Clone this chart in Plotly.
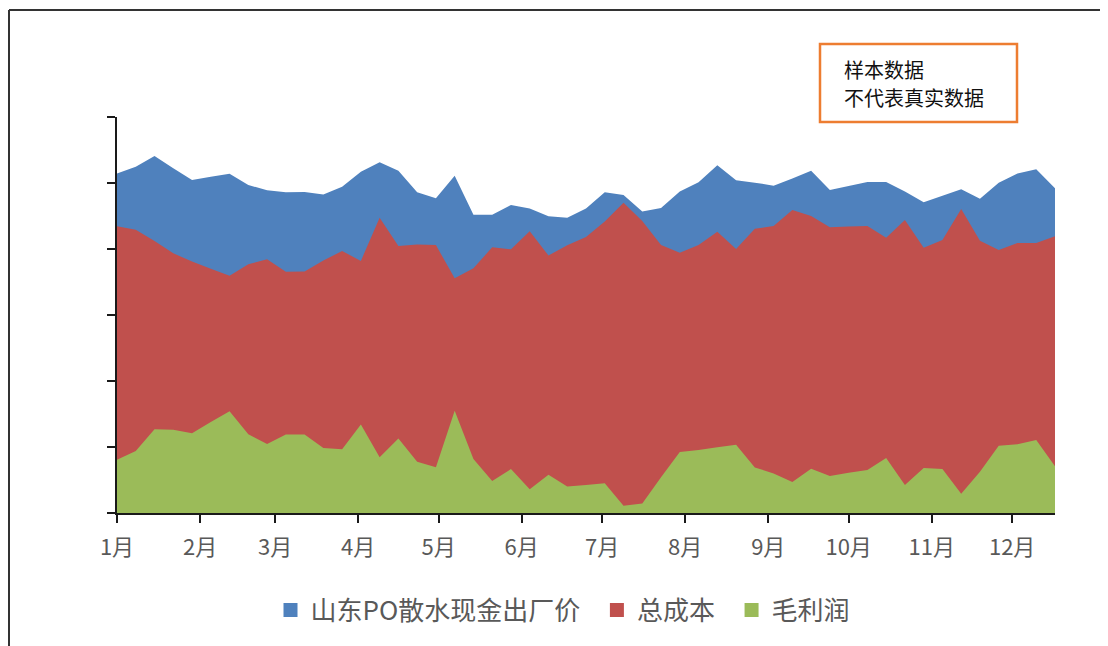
import pandas as pd
import plotly.graph_objects as go

# ---- data ----
dates = pd.date_range("2023-01-01", periods=51, freq="7D")

price = [10290, 10490, 10820, 10450, 10090, 10190, 10280, 9940, 9780, 9720,
         9730, 9650, 9890, 10340, 10630, 10370, 9720, 9540, 10220, 9040,
         9040, 9330, 9230, 8990, 8950, 9230, 9720, 9640, 9140, 9240,
         9740, 10020, 10540, 10080, 10010, 9920, 10140, 10370, 9790, 9910,
         10030, 10030, 9740, 9420, 9610, 9810, 9520, 10010, 10290, 10420,
         9840]

cost = [8690, 8580, 8240, 7870, 7620, 7400, 7190, 7540, 7690, 7310,
        7320, 7650, 7940, 7640, 8950, 8090, 8140, 8120, 7110, 7420,
        8050, 7990, 8540, 7800, 8110, 8360, 8830, 9400, 8850, 8120,
        7890, 8120, 8520, 8000, 8610, 8700, 9180, 9000, 8660, 8680,
        8700, 8340, 8880, 8040, 8270, 9210, 8250, 7970, 8180, 8180,
        8390]

profit = [1610, 1880, 2540, 2520, 2420, 2760, 3080, 2390, 2090, 2380,
          2380, 1970, 1930, 2680, 1690, 2260, 1550, 1390, 3100, 1640,
          970, 1330, 720, 1160, 800, 850, 900, 220, 290, 1080,
          1850, 1910, 1990, 2070, 1380, 1200, 940, 1340, 1120, 1220,
          1300, 1670, 850, 1360, 1330, 580, 1250, 2040, 2080, 2210,
          1420]

month_ticks = pd.date_range("2023-01-01", periods=12, freq="MS")
month_labels = ["1月", "2月", "3月", "4月", "5月", "6月",
                "7月", "8月", "9月", "10月", "11月", "12月"]
y_ticks = [0, 2000, 4000, 6000, 8000, 10000, 12000]

names = ["山东PO散水现金出厂价", "总成本", "毛利润"]
legend_names = ["山东PO散水现金出厂价\u00a0\u00a0", "总成本\u00a0\u00a0", "毛利润"]
colors = ["#4F81BD", "#C0504D", "#9BBB59"]
note_lines = ["样本数据", "不代表真实数据"]

fig = go.Figure()
for name, vals, col in zip(names, [price, cost, profit], colors):
    fig.add_trace(go.Scatter(x=dates, y=vals, mode="none", fill="tozeroy",
                             fillcolor=col, name=name, showlegend=False,
                             hoverinfo="x+y"))
# legend entries with square markers
for name, col in zip(legend_names, colors):
    fig.add_trace(go.Scatter(x=[None], y=[None], mode="markers", name=name,
                             marker=dict(symbol="square", size=14, color=col)))

# page body has an 8px margin, so figure coords = screen coords - 8
OFF = 8
L, R, T, B = 117 - OFF, 1055 - OFF, 117 - OFF, 513 - OFF
W, H = 1108, 646
def px(x):
    return (x - OFF - L) / (R - L)
def py(y):
    return (B - (y - OFF)) / (B - T)

fig.update_layout(
    width=W, height=H,
    margin=dict(l=L, r=W - R, t=T, b=H - B),
    paper_bgcolor="white", plot_bgcolor="white",
    font=dict(family="Noto Sans CJK SC", color="#595959"),
    xaxis=dict(type="date", range=[dates[0], dates[-1]],
               tickvals=list(month_ticks), ticktext=month_labels,
               ticks="outside", ticklen=8, tickwidth=2, tickcolor="#1a1a1a",
               showline=True, linecolor="#1a1a1a", linewidth=2,
               showgrid=False, zeroline=False, ticklabelstandoff=6,
               tickfont=dict(size=22, color="#595959")),
    yaxis=dict(range=[0, 12000], tickvals=y_ticks, showticklabels=False,
               ticks="outside", ticklen=8, tickwidth=2, tickcolor="#1a1a1a",
               showline=True, linecolor="#1a1a1a", linewidth=2,
               showgrid=False, zeroline=False),
    legend=dict(orientation="h", x=px(563), xanchor="center",
                y=py(610), yanchor="middle",
                font=dict(size=26, color="#595959"),
                itemwidth=30, tracegroupgap=0),
    shapes=[
        # outer frame (top and left)
        dict(type="line", xref="paper", yref="paper",
             x0=px(9), x1=px(1125), y0=py(10), y1=py(10),
             line=dict(color="#333333", width=2)),
        dict(type="line", xref="paper", yref="paper",
             x0=px(9), x1=px(9), y0=py(10), y1=py(670),
             line=dict(color="#333333", width=2)),
        # orange note box
        dict(type="rect", xref="paper", yref="paper",
             x0=px(820), x1=px(1017), y0=py(122), y1=py(44),
             line=dict(color="#ED7D31", width=2.5), fillcolor="white"),
    ],
    annotations=[
        dict(xref="paper", yref="paper", x=px(842), y=py(yy),
             xanchor="left", yanchor="middle", align="left", showarrow=False,
             text=t, font=dict(size=20, color="#111111", family="Noto Sans CJK SC"))
        for t, yy in zip(note_lines, [70, 98])
    ],
)

fig.write_html("out.html")
